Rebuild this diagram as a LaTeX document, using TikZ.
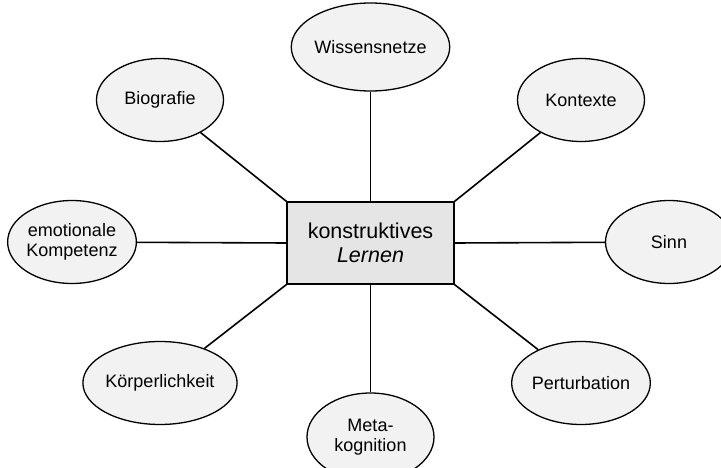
\documentclass[tikz,border=0pt]{standalone}
\usepackage{fontspec}
\setmainfont{Liberation Sans}
\usetikzlibrary{shapes.geometric}
\begin{document}
\begin{tikzpicture}[x=1pt, y=-1pt,
      every node/.style={draw, line width=1.3pt, align=center, inner sep=0pt},
      topic/.style={ellipse, fill=black!5, minimum width=127pt, minimum height=83pt,
        font=\fontsize{18}{20}\selectfont},
      link/.style={line width=1.6pt}
    ]
    \clip (0,0) rectangle (721,468);

    % centre box
    \node[rectangle, fill=black!10, minimum width=167pt, minimum height=82pt,
      font=\fontsize{21.5}{24}\selectfont] (Ler) at (370.5,243) {konstruktives\\\textit{Lernen}};

    % topics round the box
    \node[topic, minimum height=88pt] (Wis) at (370.5,47) {Wissensnetze};
    \node[topic] (Kon) at (581,100) {Kontexte};
    \node[topic] (Sin) at (669,242) {Sinn};
    \node[topic] (Per) at (581,383) {Perturbation};
    \node[topic, minimum height=88pt] (Met) at (370.5,437) {Meta-\\kognition};
    \node[topic] (Koe) at (160,383) {Körperlichkeit};
    \node[topic] (Emo) at (72,242) {emotionale\\Kompetenz};
    \node[topic] (Bio) at (160,100) {Biografie};

    \draw[link] (Ler.north) -- (Wis);
    \draw[link] (Ler.north east) -- (Kon);
    \draw[link] (Ler.east) -- (Sin);
    \draw[link] (Ler.south east) -- (Per);
    \draw[link] (Ler.south) -- (Met);
    \draw[link] (Ler.south west) -- (Koe);
    \draw[link] (Ler.west) -- (Emo);
    \draw[link] (Ler.north west) -- (Bio);

    \end{tikzpicture}
\end{document}
